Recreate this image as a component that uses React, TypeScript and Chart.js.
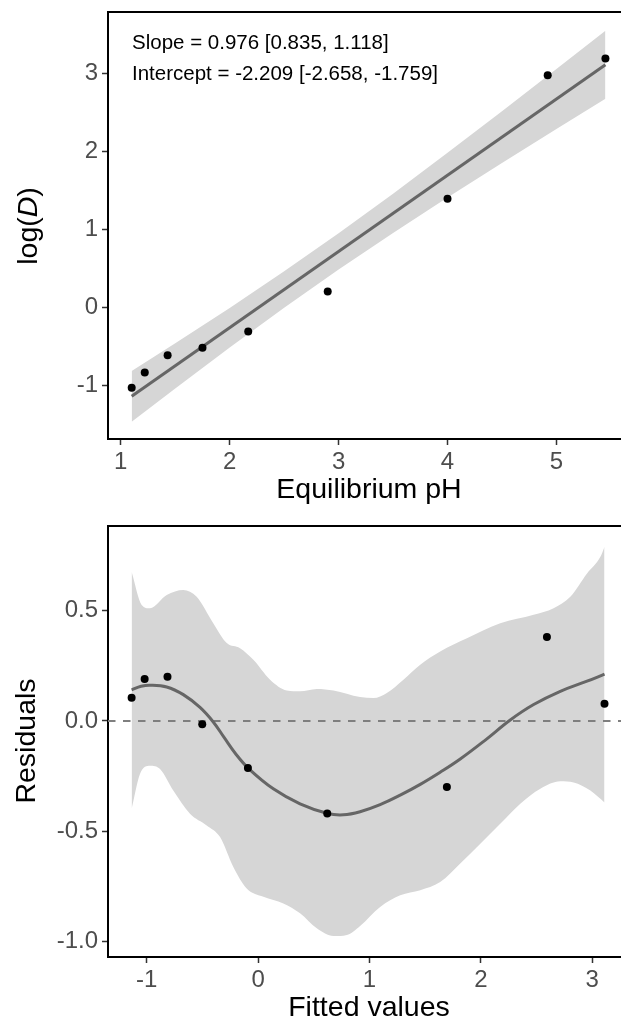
import React, { useEffect, useRef } from "react";
import { Chart, registerables } from "chart.js";

Chart.register(...registerables);

const FONT = "'Liberation Sans', Arial, Helvetica, sans-serif";
const TICK_COLOR = "#4D4D4D";
const LINE_COLOR = "#666666";
const BAND_COLOR = "#D6D6D6";

// ---------- Top panel: log(D) vs equilibrium pH ----------
const phValues = [1.1, 1.22, 1.43, 1.75, 2.17, 2.9, 4.0, 4.92, 5.45];
const logDValues = [-1.025, -0.83, -0.61, -0.515, -0.305, 0.205, 1.395, 2.975, 3.19];
const fitLineX = [1.1, 5.45];
const fitLineY = [-1.135, 3.11];
const bandX = [1.1, 1.5, 2.0, 2.5, 3.0, 3.5, 4.0, 4.5, 5.0, 5.45];
const bandLower = [-1.46, -1.034, -0.51, -0.002, 0.487, 0.956, 1.409, 1.852, 2.287, 2.675];
const bandUpper = [-0.81, -0.456, -0.004, 0.464, 0.951, 1.458, 1.981, 2.514, 3.055, 3.545];
const topXTicks = [1, 2, 3, 4, 5];
const topXLabels = ["1", "2", "3", "4", "5"];
const topYTicks = [-1, 0, 1, 2, 3];
const topYLabels = ["-1", "0", "1", "2", "3"];
const topXRange = [0.8825, 5.593];
const topYRange = [-1.682, 3.784];
const annotationLines = [
  "Slope = 0.976 [0.835, 1.118]",
  "Intercept = -2.209 [-2.658, -1.759]",
];

// ---------- Bottom panel: residuals vs fitted ----------
const fittedValues = [-1.135, -1.018, -0.813, -0.501, -0.091, 0.621, 1.695, 2.593, 3.11];
const residualValues = [0.105, 0.19, 0.2, -0.015, -0.214, -0.42, -0.3, 0.38, 0.078];
const smoothX = [-1.135, -1.05, -0.97, -0.82, -0.671, -0.521, -0.402, -0.305, -0.2, -0.087, 0.137, 0.377, 0.626, 0.766, 0.916, 1.096, 1.276, 1.456, 1.635, 1.815, 2.04, 2.264, 2.474, 2.713, 2.953, 3.11];
const smoothY = [0.141, 0.157, 0.162, 0.154, 0.119, 0.061, -0.005, -0.075, -0.15, -0.215, -0.308, -0.376, -0.42, -0.426, -0.412, -0.38, -0.337, -0.288, -0.233, -0.173, -0.087, 0.004, 0.074, 0.134, 0.18, 0.212];
const upperX = [-1.135, -1.045, -0.97, -0.82, -0.671, -0.551, -0.402, -0.281, -0.162, -0.042, 0.108, 0.258, 0.377, 0.527, 0.677, 0.916, 1.036, 1.156, 1.305, 1.456, 1.635, 1.875, 2.174, 2.474, 2.653, 2.803, 2.953, 3.073, 3.11];
const upperY = [0.676, 0.526, 0.511, 0.571, 0.594, 0.563, 0.443, 0.353, 0.33, 0.277, 0.187, 0.138, 0.134, 0.145, 0.138, 0.108, 0.104, 0.127, 0.187, 0.255, 0.315, 0.375, 0.443, 0.481, 0.511, 0.563, 0.669, 0.744, 0.79];
const lowerX = [-1.135, -1.06, -0.97, -0.88, -0.761, -0.611, -0.461, -0.341, -0.222, -0.102, 0.048, 0.227, 0.377, 0.527, 0.677, 0.797, 0.916, 1.096, 1.276, 1.456, 1.635, 1.815, 1.995, 2.174, 2.354, 2.534, 2.713, 2.833, 2.983, 3.11];
const lowerY = [-0.399, -0.241, -0.203, -0.218, -0.316, -0.421, -0.474, -0.527, -0.663, -0.76, -0.798, -0.828, -0.873, -0.941, -0.976, -0.971, -0.93, -0.844, -0.791, -0.768, -0.731, -0.647, -0.557, -0.467, -0.376, -0.308, -0.274, -0.279, -0.316, -0.37];
const botXTicks = [-1, 0, 1, 2, 3];
const botXLabels = ["-1", "0", "1", "2", "3"];
const botYTicks = [-1, -0.5, 0, 0.5];
const botYLabels = ["-1.0", "-0.5", "0.0", "0.5"];
const botXRange = [-1.347, 3.258];
const botYRange = [-1.071, 0.884];
const zeroLevel = 0;

const xy = (xs: number[], ys: number[]) => xs.map((x, i) => ({ x, y: ys[i] }));

function axis(range: number[], ticks: number[], labels: string[], fitSize: number, horizontal: boolean) {
  return {
    type: "linear",
    min: range[0],
    max: range[1],
    afterBuildTicks: (s: any) => {
      s.ticks = ticks.map((v) => ({ value: v }));
    },
    afterFit: (s: any) => {
      if (horizontal) s.height = fitSize;
      else s.width = fitSize;
      s.paddingTop = 0;
      s.paddingBottom = 0;
      s.paddingLeft = 0;
      s.paddingRight = 0;
    },
    ticks: {
      autoSkip: false,
      maxRotation: 0,
      padding: horizontal ? 3 : 4,
      color: TICK_COLOR,
      font: { family: FONT, size: 24 },
      callback: (_v: any, i: number) => labels[i],
    },
    grid: {
      display: true,
      drawOnChartArea: false,
      drawTicks: true,
      tickLength: 6,
      tickWidth: 1.5,
      tickColor: "#333333",
    },
    border: { display: true, color: "#000000", width: 2 },
  };
}

type Decor = {
  xTitle: string;
  xTitleX: number;
  xTitleY: number;
  yTitleParts: { text: string; italic: boolean }[];
  yTitleX: number;
  yTitleCenter: number;
  notes?: { lines: string[]; x: number; ys: number[] };
};

function decorPlugin(d: Decor) {
  return {
    id: "decor",
    afterDraw(chart: any) {
      const ctx = chart.ctx as CanvasRenderingContext2D;
      const { left, top } = chart.chartArea;
      ctx.save();
      // top panel border
      ctx.strokeStyle = "#000000";
      ctx.lineWidth = 2;
      ctx.beginPath();
      ctx.moveTo(left - 1, top);
      ctx.lineTo(chart.width, top);
      ctx.stroke();
      // x title
      ctx.fillStyle = "#000000";
      ctx.font = `28.5px ${FONT}`;
      ctx.textAlign = "center";
      ctx.textBaseline = "alphabetic";
      ctx.fillText(d.xTitle, d.xTitleX, d.xTitleY);
      // y title (rotated, mixed style)
      const fontFor = (it: boolean) => `${it ? "italic " : ""}28.5px ${FONT}`;
      let total = 0;
      const widths = d.yTitleParts.map((p) => {
        ctx.font = fontFor(p.italic);
        const w = ctx.measureText(p.text).width;
        total += w;
        return w;
      });
      ctx.translate(d.yTitleX, d.yTitleCenter);
      ctx.rotate(-Math.PI / 2);
      ctx.textAlign = "left";
      let cx = -total / 2;
      d.yTitleParts.forEach((p, i) => {
        ctx.font = fontFor(p.italic);
        ctx.fillText(p.text, cx, 0);
        cx += widths[i];
      });
      ctx.setTransform(1, 0, 0, 1, 0, 0);
      if (d.notes) {
        ctx.font = `20.5px ${FONT}`;
        ctx.textAlign = "left";
        ctx.fillStyle = "#000000";
        d.notes.lines.forEach((t, i) => ctx.fillText(t, d.notes!.x, d.notes!.ys[i]));
      }
      ctx.restore();
    },
  };
}

function useChart(ref: React.RefObject<HTMLCanvasElement>, build: () => any) {
  useEffect(() => {
    if (!ref.current) return;
    const chart = new Chart(ref.current, build());
    return () => chart.destroy();
  }, []);
}

export default function App() {
  const topRef = useRef<HTMLCanvasElement>(null);
  const botRef = useRef<HTMLCanvasElement>(null);

  useChart(topRef, () => ({
    type: "line",
    data: {
      datasets: [
        {
          label: "points",
          data: xy(phValues, logDValues),
          showLine: false,
          pointRadius: 4,
          pointBorderWidth: 0,
          pointBackgroundColor: "#000000",
          order: 1,
        },
        {
          label: "fit",
          data: xy(fitLineX, fitLineY),
          borderColor: LINE_COLOR,
          borderWidth: 3,
          pointRadius: 0,
          order: 2,
        },
        {
          label: "lower",
          data: xy(bandX, bandLower),
          borderWidth: 0,
          pointRadius: 0,
          fill: false,
          order: 4,
        },
        {
          label: "upper",
          data: xy(bandX, bandUpper),
          borderWidth: 0,
          pointRadius: 0,
          backgroundColor: BAND_COLOR,
          fill: "-1",
          order: 3,
        },
      ],
    },
    options: {
      animation: false,
      responsive: false,
      events: [],
      layout: { autoPadding: false, padding: { top: 12, right: 0, left: 0, bottom: 0 } },
      plugins: { legend: { display: false }, tooltip: { enabled: false } },
      scales: {
        x: axis(topXRange, topXTicks, topXLabels, 71, true),
        y: axis(topYRange, topYTicks, topYLabels, 108, false),
      },
    },
    plugins: [
      decorPlugin({
        xTitle: "Equilibrium pH",
        xTitleX: 369,
        xTitleY: 498,
        yTitleParts: [
          { text: "log(", italic: false },
          { text: "D", italic: true },
          { text: ")", italic: false },
        ],
        yTitleX: 37,
        yTitleCenter: 226,
        notes: { lines: annotationLines, x: 132, ys: [48.5, 79.5] },
      }),
    ],
  }));

  useChart(botRef, () => ({
    type: "line",
    data: {
      datasets: [
        {
          label: "residuals",
          data: xy(fittedValues, residualValues),
          showLine: false,
          pointRadius: 4,
          pointBorderWidth: 0,
          pointBackgroundColor: "#000000",
          order: 1,
        },
        {
          label: "smooth",
          data: xy(smoothX, smoothY),
          borderColor: LINE_COLOR,
          borderWidth: 3,
          pointRadius: 0,
          tension: 0.4,
          order: 2,
        },
        {
          label: "zero",
          data: xy(botXRange, [zeroLevel, zeroLevel]),
          borderColor: "#7F7F7F",
          borderWidth: 2,
          borderDash: [7.5, 7.5],
          pointRadius: 0,
          order: 3,
        },
        {
          label: "lower",
          data: xy(lowerX, lowerY),
          borderWidth: 0,
          pointRadius: 0,
          cubicInterpolationMode: "monotone",
          fill: false,
          order: 5,
        },
        {
          label: "upper",
          data: xy(upperX, upperY),
          borderWidth: 0,
          pointRadius: 0,
          cubicInterpolationMode: "monotone",
          backgroundColor: BAND_COLOR,
          fill: "-1",
          order: 4,
        },
      ],
    },
    options: {
      animation: false,
      responsive: false,
      events: [],
      layout: { autoPadding: false, padding: { top: 16, right: 0, left: 0, bottom: 0 } },
      plugins: { legend: { display: false }, tooltip: { enabled: false } },
      scales: {
        x: axis(botXRange, botXTicks, botXLabels, 60, true),
        y: axis(botYRange, botYTicks, botYLabels, 108, false),
      },
    },
    plugins: [
      decorPlugin({
        xTitle: "Fitted values",
        xTitleX: 369,
        xTitleY: 506,
        yTitleParts: [{ text: "Residuals", italic: false }],
        yTitleX: 35,
        yTitleCenter: 231,
      }),
    ],
  }));

  return (
    <div style={{ position: "absolute", left: 0, top: 0, width: 621, height: 1017, background: "#ffffff" }}>
      <canvas ref={topRef} width={621} height={510} style={{ display: "block" }} />
      <canvas ref={botRef} width={621} height={507} style={{ display: "block" }} />
    </div>
  );
}
